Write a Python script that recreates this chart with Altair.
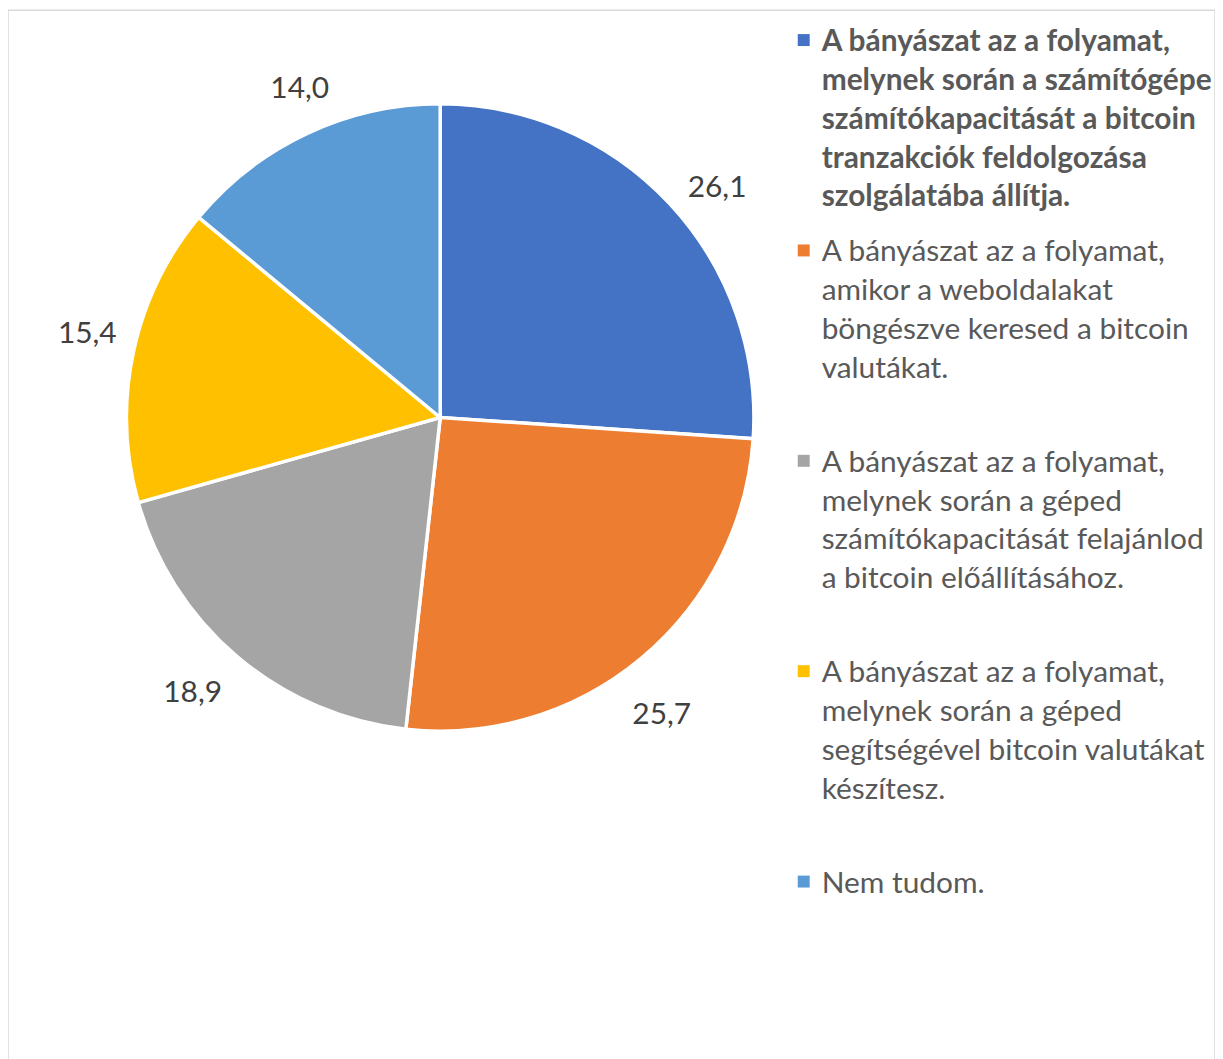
import math
import altair as alt
import pandas as pd

categories = [
    "A bányászat az a folyamat,\nmelynek során a számítógépe\nszámítókapacitását a bitcoin\ntranzakciók feldolgozása\nszolgálatába állítja.",
    "A bányászat az a folyamat,\namikor a weboldalakat\nböngészve keresed a bitcoin\nvalutákat.",
    "A bányászat az a folyamat,\nmelynek során a géped\nszámítókapacitását felajánlod\na bitcoin előállításához.",
    "A bányászat az a folyamat,\nmelynek során a géped\nsegítségével bitcoin valutákat\nkészítesz.",
    "Nem tudom.",
]
values = [26.1, 25.7, 18.9, 15.4, 14.0]
value_labels = ["26,1", "25,7", "18,9", "15,4", "14,0"]
colors = ["#4472C4", "#ED7D31", "#A5A5A5", "#FFC000", "#5B9BD5"]
bold_flags = [True, False, False, False, False]

df = pd.DataFrame({
    "cat": categories,
    "value": values,
    "label": value_labels,
    "idx": list(range(len(values))),
    "bold": bold_flags,
})

FONT = "Lato"
CX, CY = 434, 409
LABEL_ROT = math.radians(2.5)

color_scale = alt.Scale(domain=categories, range=colors)
base = alt.Chart(df)

pie = base.mark_arc(radius=315, stroke="white", strokeWidth=3.5).encode(
    theta=alt.Theta("value:Q", stack=True),
    color=alt.Color("cat:N", scale=color_scale, legend=None),
    order=alt.Order("idx:Q", sort="ascending"),
    x=alt.value(CX),
    y=alt.value(CY),
)

labels = base.mark_text(radius=366, font=FONT, fontSize=30, color="#404040", dy=8).encode(
    theta=alt.Theta("value:Q", stack=True,
                    scale=alt.Scale(range=[LABEL_ROT, 2 * math.pi + LABEL_ROT])),
    text=alt.Text("label:N"),
    order=alt.Order("idx:Q", sort="ascending"),
    x=alt.value(CX),
    y=alt.value(CY),
)

ypos = alt.Y("idx:Q", axis=None, scale=alt.Scale(domain=[0, 4], range=[30, 875]))

swatches = base.mark_square(size=144, opacity=1).encode(
    x=alt.value(799),
    y=ypos,
    color=alt.Color("cat:N", scale=color_scale, legend=None),
)

leg_bold = base.transform_filter("datum.bold").mark_text(
    font=FONT, fontSize=30, fontWeight="bold", color="#595959",
    align="left", baseline="alphabetic", lineBreak="\n", lineHeight=39, dy=11, clip=True,
).encode(x=alt.value(817), y=ypos, text="cat:N")

leg_norm = base.transform_filter("!datum.bold").mark_text(
    font=FONT, fontSize=30, color="#595959",
    align="left", baseline="alphabetic", lineBreak="\n", lineHeight=39, dy=11, clip=True,
).encode(x=alt.value(817), y=ypos, text="cat:N")

chart = alt.layer(pie, labels, swatches, leg_bold, leg_norm).resolve_scale(
    theta="independent"
).properties(
    width=1212, height=1060, padding=0,
    autosize=alt.AutoSizeParams(type="none"),
).configure_view(stroke="#D9D9D9", strokeWidth=1.5)

chart.save("out.html", embed_options={"renderer": "svg", "actions": False})
